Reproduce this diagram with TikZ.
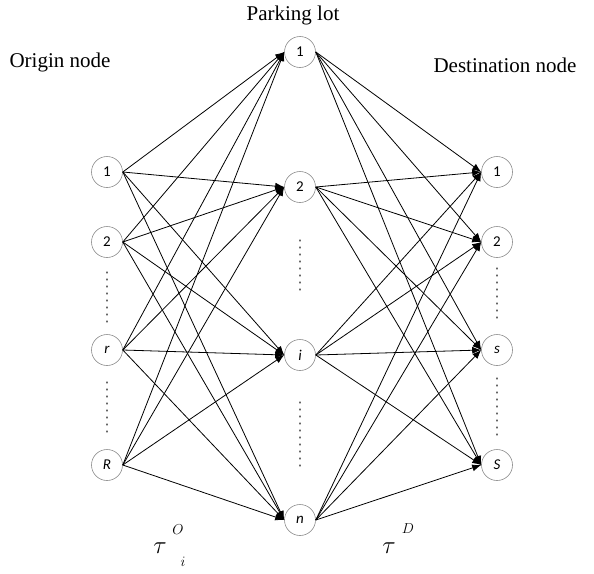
\documentclass[tikz,border=0pt]{standalone}
\usepackage{fontspec}
\setmainfont{Liberation Serif}
\newfontfamily\nodefont{Carlito}
\usetikzlibrary{arrows.meta}

\begin{document}
\begin{tikzpicture}[x=1pt,y=-1pt,
  vertex/.style={circle,draw=black!45,line width=0.6pt,minimum size=31pt,inner sep=0pt,
                 font=\nodefont\fontsize{15}{15}\selectfont,fill=white},
  link/.style={line width=0.8pt,-{Latex[length=9pt,width=7pt]}},
  heading/.style={font=\fontsize{21}{21}\selectfont},
  costsym/.style={font=\fontsize{24}{24}\selectfont,inner sep=0pt},
  costidx/.style={font=\fontsize{15}{15}\selectfont,inner sep=0pt},
  vdots/.style={black!60,line width=1.1pt,dash pattern=on 1pt off 6pt,line cap=round}]
  \useasboundingbox (0,0) rectangle (594,573);

  % column headings
  \node[heading] (hp) at (293,15) {Parking lot};
  \node[heading] (ho) at (60,62) {Origin node};
  \node[heading] (hd) at (505,65) {Destination node};

  % origin nodes
  \node[vertex] (o1) at (107,172) {1};
  \node[vertex] (o2) at (107,242) {2};
  \node[vertex] (or) at (107,350) {\itshape r};
  \node[vertex] (oR) at (107,465) {\itshape R};

  % parking lots
  \node[vertex] (p1) at (300,52) {1};
  \node[vertex] (p2) at (300,187) {2};
  \node[vertex] (pi) at (300,355) {\itshape i};
  \node[vertex] (pn) at (300,520) {\itshape n};

  % destination nodes
  \node[vertex] (d1) at (497,172) {1};
  \node[vertex] (d2) at (497,242) {2};
  \node[vertex] (ds) at (497,350) {\itshape s};
  \node[vertex] (dS) at (497,465) {\itshape S};

  % origin -> parking lot, leaving and entering at the sides
  \foreach \a in {o1,o2,or,oR}
    \foreach \b in {p1,p2,pi,pn}
      \draw[link] (\a.east) -- (\b.west);

  % parking lot -> destination
  \foreach \a in {p1,p2,pi,pn}
    \foreach \b in {d1,d2,ds,dS}
      \draw[link] (\a.east) -- (\b.west);

  % ellipsis dots between nodes
  \coordinate (lA) at (107,272); \coordinate (lB) at (107,322);
  \coordinate (lC) at (107,382); \coordinate (lD) at (107,438);
  \coordinate (mA) at (300,240); \coordinate (mB) at (300,292);
  \coordinate (mC) at (300,402); \coordinate (mD) at (300,468);
  \coordinate (rA) at (497,268); \coordinate (rB) at (497,322);
  \coordinate (rC) at (497,378); \coordinate (rD) at (497,440);
  \foreach \u/\v in {lA/lB,lC/lD,mA/mB,mC/mD,rA/rB,rC/rD}
    \draw[vdots] (\u) -- (\v);

  % cost labels, symbol and indices set apart
  \node[costsym] (tO)  at (160,548) {$\tau$};
  \node[costidx] (tOs) at (178,530) {$O$};
  \node[costidx] (tOi) at (183,562) {$i$};
  \node[costsym] (tD)  at (389,548) {$\tau$};
  \node[costidx] (tDs) at (408,529) {$D$};
\end{tikzpicture}
\end{document}
